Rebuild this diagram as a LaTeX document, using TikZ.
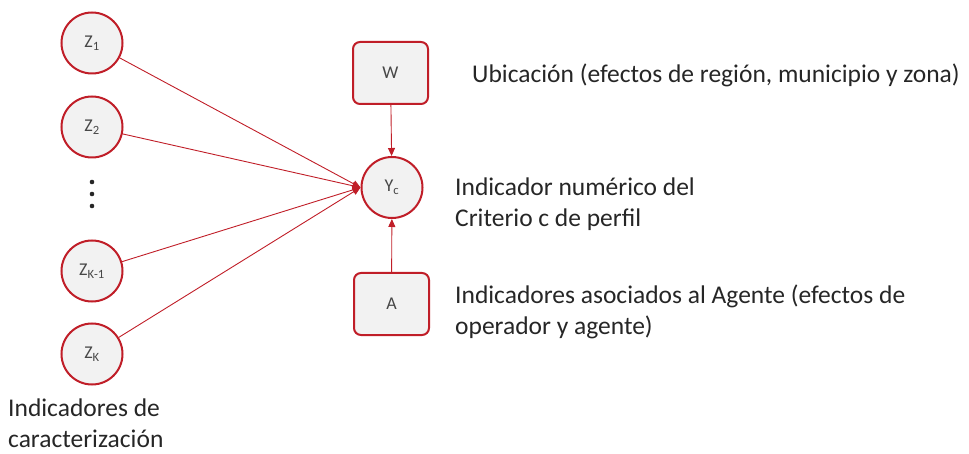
\documentclass[tikz,border=0pt]{standalone}
\usepackage{fontspec}
\setmainfont{Carlito}
\usetikzlibrary{arrows.meta}
\definecolor{dred}{RGB}{192,30,40}
\definecolor{lgray}{RGB}{242,242,242}
\definecolor{txt}{RGB}{38,38,38}
\tikzset{
  var/.style={circle,draw=dred,line width=2pt,fill=lgray,minimum size=61pt,inner sep=0pt,font=\fontsize{18}{20}\selectfont,text=txt!85},
  box/.style={rectangle,rounded corners=7pt,draw=dred,line width=2pt,fill=lgray,minimum width=75pt,minimum height=62pt,inner sep=0pt,font=\fontsize{18}{20}\selectfont,text=txt!85},
  conn/.style={draw=dred,line width=0.9pt,-{Triangle[length=8pt,width=7pt]}},
  lbl/.style={anchor=west,inner sep=0pt,align=left,text=txt,font=\fontsize{25.5}{31}\selectfont}
}
\begin{document}
\begin{tikzpicture}[x=1pt,y=-1pt]
\useasboundingbox (0,0) rectangle (969,454);
\node[var] (z1) at (92,43) {Z\textsubscript{1}};
\node[var] (z2) at (92,127) {Z\textsubscript{2}};
\node[var] (zk1) at (92,271) {Z\textsubscript{K-1}};
\node[var] (zk) at (92,354) {Z\textsubscript{K}};
\fill[txt] (92,182) circle (2.3pt) (92,194) circle (2.3pt) (92,206) circle (2.3pt);
\node[box] (w) at (390.5,73) {W};
\node[var] (yc) at (392,187.5) {Y\textsubscript{c}};
\node[box] (a) at (391.5,304) {A};
\draw[conn] (w) -- (yc);
\draw[conn] (a) -- (yc);
\draw[conn] (z1) -- (yc.west);
\draw[conn] (z2) -- (yc.west);
\draw[conn] (zk1) -- (yc.west);
\draw[conn] (zk) -- (yc.west);
\node[lbl] (t1) at (472,75) {Ubicación (efectos de región, municipio y zona)};
\node[lbl] (t2) at (455,204) {Indicador numérico del\\Criterio c de perfil};
\node[lbl] (t3) at (455,312) {Indicadores asociados al Agente (efectos de\\operador y agente)};
\node[lbl] (t4) at (8,423) {Indicadores de\\caracterización};
\end{tikzpicture}
\end{document}
